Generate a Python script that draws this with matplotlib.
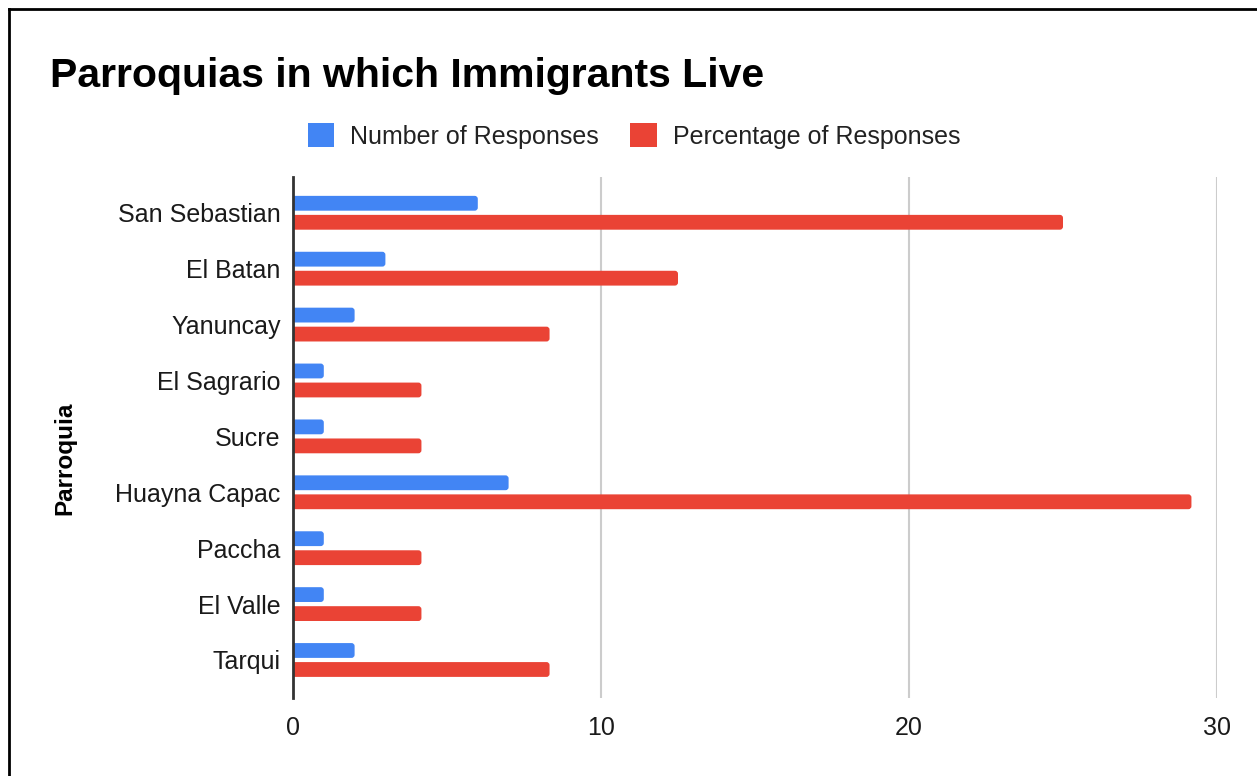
import matplotlib
matplotlib.use("Agg")
import matplotlib.pyplot as plt
from matplotlib.patches import FancyBboxPatch, Patch
from matplotlib.lines import Line2D

plt.rcParams['font.family'] = ['Liberation Sans', 'DejaVu Sans']

parroquias = ["San Sebastian", "El Batan", "Yanuncay", "El Sagrario", "Sucre",
              "Huayna Capac", "Paccha", "El Valle", "Tarqui"]
num_responses = [6, 3, 2, 1, 1, 7, 1, 1, 2]
pct_responses = [25.0, 12.5, 8.33, 4.17, 4.17, 29.17, 4.17, 4.17, 8.33]
x_ticks = [0, 10, 20, 30]

BLUE = "#4285F4"
RED = "#EA4335"

W, H = 1257, 776
fig = plt.figure(figsize=(W / 100, H / 100), dpi=100)
fig.patch.set_facecolor("white")

ax = fig.add_axes([293 / W, 1 - 698 / H, (1217 - 293) / W, (698 - 177) / H])

pos = list(range(len(parroquias)))
bar_h = 0.265
off = 0.17
b1 = ax.barh([p - off for p in pos], num_responses, height=bar_h, color=BLUE)
b2 = ax.barh([p + off for p in pos], pct_responses, height=bar_h, color=RED)

# swap plain rectangles for ones with slightly rounded ends
for bars in (b1, b2):
    for r in bars:
        x, y, w, h = r.get_x(), r.get_y(), r.get_width(), r.get_height()
        color = r.get_facecolor()
        r.remove()
        p = FancyBboxPatch((x - 0.3, y), w + 0.3, h,
                           boxstyle="round,pad=0,rounding_size=0.1",
                           mutation_aspect=0.55, facecolor=color,
                           edgecolor="none", zorder=2)
        ax.add_patch(p)

ax.set_xlim(0, 30)
ax.set_ylim(8.68, -0.64)
ax.set_xticks(x_ticks)
ax.set_xticklabels([str(t) for t in x_ticks])
ax.set_yticks(pos)
ax.set_yticklabels(parroquias)

ax.grid(axis="x", color="#cccccc", linewidth=1.5, zorder=0)
ax.set_axisbelow(True)
for s in ["top", "right", "bottom"]:
    ax.spines[s].set_visible(False)
ax.spines["left"].set_color("#333333")
ax.spines["left"].set_linewidth(2)
ax.spines["left"].set_zorder(3)
ax.tick_params(axis="both", length=0, labelsize=18, colors="#1a1a1a")
ax.tick_params(axis="x", pad=13)
ax.tick_params(axis="y", pad=9)

ax.set_ylabel("Parroquia", fontsize=17.5, fontweight="bold", color="black")
ax.yaxis.set_label_coords(76 / W, 1 - 458 / H, transform=fig.transFigure)

fig.text(50 / W, 1 - 87 / H, "Parroquias in which Immigrants Live",
         fontsize=29.5, fontweight="bold", color="black", va="baseline", ha="left")

handles = [Patch(facecolor=BLUE, edgecolor="none", label="Number of Responses"),
           Patch(facecolor=RED, edgecolor="none", label="Percentage of Responses")]
leg = fig.legend(handles=handles, loc="center", bbox_to_anchor=(634 / W, 1 - 136 / H),
                 ncol=2, frameon=False, fontsize=18, handlelength=1.05,
                 handleheight=1.05, handletextpad=0.65, columnspacing=1.25)
for t in leg.get_texts():
    t.set_color("#222222")

# outer frame on the top and left edges
fig.add_artist(Line2D([8.5 / W, 8.5 / W], [0, 1 - 8.5 / H], transform=fig.transFigure,
                      color="black", linewidth=2))
fig.add_artist(Line2D([8.5 / W, 1], [1 - 8.5 / H, 1 - 8.5 / H], transform=fig.transFigure,
                      color="black", linewidth=2))

fig.savefig("out.png", dpi=100, facecolor="white")
